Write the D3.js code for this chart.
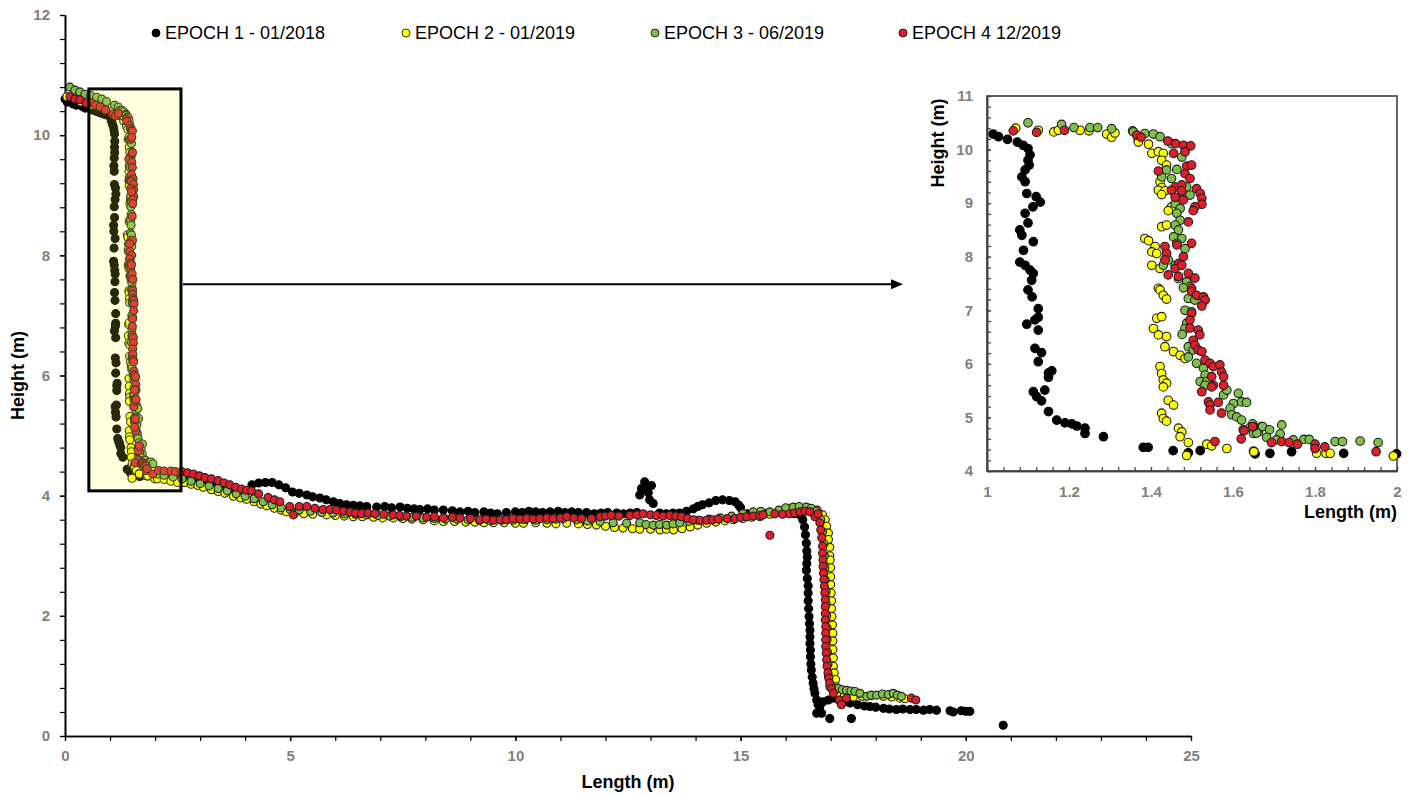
<!DOCTYPE html>
<html>
<head>
<meta charset="utf-8">
<script src="https://cdn.jsdelivr.net/npm/d3@7"></script>
<style>
  body { margin: 0; background: #fff; }
  text { font-family: "Liberation Sans", Arial, sans-serif; }
</style>
</head>
<body>
<script>
// ---- data: [length (m), height (m)] per survey epoch ----
const SERIES = ['EPOCH 1 - 01/2018', 'EPOCH 2 - 01/2019', 'EPOCH 3 - 06/2019', 'EPOCH 4 12/2019'];
const COLORS = ['#000000', '#ffff00', '#7fbf4a', '#dc1f2b'];

const EPOCH1 = [
    // crest
    [0.0,10.6],[0.05,10.55],[0.12,10.58],[0.18,10.52],[0.25,10.5],[0.3,10.55],[0.38,10.48],[0.45,10.45],
    [0.52,10.47],[0.6,10.42],[0.68,10.4],[0.75,10.38],[0.82,10.36],[0.9,10.34],[0.96,10.33],
    // upper wall
    [1.015,10.29],[1.028,10.24],[1.05,10.19],[1.074,10.14],[1.088,10.08],[1.10,10.02],[1.105,9.90],[1.10,9.80],
    [1.103,9.71],[1.093,9.62],[1.085,9.49],[1.093,9.40],[1.097,9.18],[1.12,9.12],[1.13,9.02],[1.112,8.93],
    [1.093,8.81],[1.10,8.63],[1.08,8.50],[1.085,8.40],[1.113,8.28],[1.089,8.12],[1.08,7.90],[1.093,7.84],
    [1.105,7.75],[1.113,7.69],[1.109,7.56],[1.10,7.38],[1.11,7.25],[1.125,7.03],[1.125,6.87],[1.117,6.82],
    [1.097,6.74],[1.125,6.63],[1.117,6.29],[1.133,6.21],[1.125,6.04],[1.15,5.83],[1.158,5.87],[1.15,5.75],
    [1.141,5.51],[1.113,5.48],[1.121,5.39],[1.133,5.31],[1.15,5.11],[1.17,4.95],[1.19,4.90],[1.207,4.88],
    [1.219,4.84],[1.239,4.80],[1.239,4.70],[1.284,4.64],[1.381,4.44],[1.393,4.44],[1.454,4.38],[1.491,4.34],
    [1.52,4.38],[1.654,4.32],[1.69,4.33],[1.743,4.36],[1.87,4.33],[1.999,4.32],
    // terrace
    [2.05,4.33],[2.2,4.32],[2.35,4.30],[2.5,4.28],[2.65,4.26],[2.8,4.24],[2.95,4.22],[3.1,4.2],[3.25,4.18],
    [3.4,4.15],[3.55,4.13],[3.7,4.1],[3.85,4.08],[4.0,4.08],[4.15,4.18],[4.3,4.21],[4.45,4.22],[4.6,4.22],
    [4.75,4.18],[4.9,4.13],[5.05,4.06],[5.2,4.04],[5.37,4.01],[5.5,3.98],[5.66,3.96],[5.8,3.93],[5.96,3.90],
    [6.1,3.87],[6.25,3.85],[6.4,3.84],[6.55,3.83],[6.7,3.82],[6.92,3.81],[7.1,3.82],[7.25,3.80],[7.44,3.81],
    [7.6,3.79],[7.75,3.78],[7.88,3.77],[8.05,3.78],[8.2,3.76],[8.4,3.76],[8.6,3.75],[8.77,3.73],[8.95,3.74],
    [9.1,3.72],[9.3,3.73],[9.45,3.71],[9.6,3.70],[9.8,3.72],[10.0,3.73],[10.15,3.72],[10.3,3.74],[10.45,3.73],
    [10.6,3.72],[10.77,3.73],[10.95,3.74],[11.1,3.72],[11.25,3.73],[11.4,3.72],[11.58,3.72],[11.75,3.70],
    [11.9,3.71],[12.05,3.72],[12.25,3.71],[12.4,3.70],[12.55,3.71],[12.7,3.72],[12.76,4.01],[12.8,4.12],
    [12.87,4.23],[12.92,4.10],[12.95,4.05],[13.02,4.17],[12.98,3.93],[13.06,3.87],[13.2,3.71],[13.35,3.70],
    [13.5,3.71],[13.65,3.71],[13.8,3.74],[13.95,3.78],[14.05,3.82],[14.15,3.85],[14.3,3.88],[14.45,3.92],
    [14.6,3.93],[14.75,3.92],[14.88,3.90],[14.96,3.84],[15.0,3.80],[15.15,3.70],[15.3,3.69],[15.45,3.70],
    [15.6,3.71],[15.75,3.70],[15.9,3.72],[16.05,3.71],[16.2,3.70],[16.32,3.68],
    // lower wall
    [16.38,3.60],[16.42,3.48],[16.44,3.35],[16.46,3.21],[16.47,3.08],[16.48,2.98],[16.47,2.87],[16.46,2.76],
    [16.48,2.62],[16.50,2.50],[16.50,2.38],[16.50,2.25],[16.51,2.12],[16.52,1.99],[16.53,1.87],[16.54,1.76],
    [16.54,1.65],[16.54,1.54],[16.55,1.43],[16.55,1.32],[16.56,1.2],[16.57,1.10],[16.59,0.98],[16.61,0.88],
    [16.63,0.79],[16.65,0.71],[16.69,0.60],[16.72,0.52],[16.76,0.49],[16.80,0.38],[16.69,0.38],[16.98,0.29],
    [17.46,0.29],
    // toe
    [16.83,0.57],[16.95,0.6],[17.06,0.63],[17.2,0.58],[17.3,0.57],[17.43,0.55],[17.6,0.52],[17.75,0.5],
    [17.87,0.49],[18.0,0.48],[18.17,0.46],[18.3,0.45],[18.46,0.44],[18.6,0.45],[18.76,0.44],[18.9,0.44],
    [19.06,0.43],[19.2,0.44],[19.35,0.43],[19.65,0.42],[19.72,0.40],[19.9,0.42],[20.0,0.41],[20.09,0.41],
    [20.83,0.18]
];

const EPOCH2 = [
    [0.04,10.64],[0.35,10.55],[0.6,10.5],[0.89,10.45],
    [1.070,10.40],[1.125,10.36],[1.163,10.33],[1.174,10.36],[1.227,10.36],[1.249,10.35],[1.292,10.29],
    [1.304,10.23],[1.312,10.31],[1.369,10.18],[1.369,10.14],[1.394,10.10],[1.402,9.93],[1.418,9.96],
    [1.430,9.93],[1.426,9.80],[1.438,9.71],[1.422,9.40],[1.426,9.29],[1.418,9.24],[1.434,9.23],[1.426,9.16],
    [1.450,8.93],[1.442,8.86],[1.426,8.56],[1.438,8.59],[1.385,8.34],[1.394,8.30],[1.410,8.19],[1.402,8.09],
    [1.414,8.06],[1.402,7.84],[1.422,7.78],[1.418,7.41],[1.422,7.38],[1.430,7.28],[1.438,7.21],[1.414,6.85],
    [1.426,6.88],[1.406,6.66],[1.418,6.54],[1.438,6.51],[1.434,6.32],[1.455,6.23],[1.471,6.16],[1.483,6.10],
    [1.422,5.95],[1.426,5.82],[1.430,5.70],[1.438,5.64],[1.430,5.57],[1.442,5.32],[1.455,5.23],[1.426,5.08],
    [1.430,4.98],[1.438,4.93],[1.467,4.80],[1.475,4.73],[1.471,4.64],[1.491,4.53],[1.487,4.29],[1.536,4.50],
    [1.548,4.47],[1.585,4.42],[1.650,4.37],[1.651,4.36],[1.804,4.33],[1.827,4.33],[1.837,4.33],[1.991,4.28],
    [2.05,4.28],[2.2,4.27],[2.35,4.24],[2.5,4.22],[2.65,4.22],[2.8,4.19],[2.95,4.17],[3.07,4.14],[3.25,4.10],
    [3.4,4.07],[3.55,4.04],[3.74,3.99],[3.9,3.96],[4.03,3.94],[4.2,3.90],[4.35,3.86],[4.48,3.83],[4.65,3.79],
    [4.8,3.76],[4.92,3.73],[5.1,3.71],[5.3,3.70],[5.5,3.69],[5.81,3.68],[6.0,3.67],[6.2,3.66],[6.4,3.65],
    [6.6,3.65],[6.85,3.64],[7.05,3.63],[7.29,3.63],[7.5,3.62],[7.7,3.61],[7.95,3.60],[8.2,3.58],[8.40,3.57],
    [8.65,3.57],[8.9,3.56],[9.1,3.56],[9.3,3.55],[9.51,3.55],[9.75,3.55],[10.0,3.54],[10.18,3.54],[10.45,3.55],
    [10.70,3.54],[10.9,3.53],[11.14,3.54],[11.4,3.53],[11.6,3.52],[11.80,3.51],[12.0,3.49],[12.2,3.47],
    [12.39,3.46],[12.6,3.45],[12.76,3.44],[13.0,3.44],[13.21,3.43],[13.35,3.44],[13.51,3.43],[13.7,3.45],
    [13.88,3.48],[14.05,3.51],[14.25,3.54],[14.45,3.56],[14.65,3.58],[14.84,3.60],[15.05,3.62],[15.25,3.64],
    [15.43,3.65],[15.65,3.69],[15.85,3.74],[16.09,3.79],[16.3,3.8],[16.5,3.79],[16.7,3.76],[16.82,3.68],
    [16.88,3.60],
    [16.91,3.49],[16.95,3.38],[16.95,3.27],[16.98,3.14],[16.98,3.0],[16.99,2.93],[17.0,2.80],[17.0,2.65],
    [17.0,2.52],[17.01,2.38],[17.02,2.25],[17.02,2.12],[17.03,1.99],[17.04,1.85],[17.05,1.71],[17.05,1.58],
    [17.05,1.44],[17.06,1.30],[17.06,1.16],[17.08,1.05],[17.11,0.94],[17.12,0.82],[17.14,0.71],
    [17.3,0.66],[17.5,0.65],[17.7,0.66],[17.9,0.67],[18.17,0.66],[18.35,0.65],[18.54,0.63],[18.65,0.62]
];

const EPOCH3 = [
    [0.11,10.80],[0.22,10.75],[0.33,10.72],[0.44,10.68],[0.57,10.66],[0.70,10.63],[0.82,10.6],[0.92,10.56],
    [1.10,10.50],[1.182,10.47],[1.212,10.41],[1.251,10.41],[1.270,10.41],[1.304,10.39],[1.355,10.35],
    [1.357,10.33],[1.385,10.30],[1.406,10.29],[1.422,10.24],[1.450,10.11],[1.475,9.86],[1.438,9.62],
    [1.463,9.63],[1.426,9.49],[1.450,9.46],[1.487,9.30],[1.479,9.12],[1.495,9.15],[1.459,8.99],[1.471,8.90],
    [1.463,8.81],[1.471,8.68],[1.459,8.59],[1.467,8.50],[1.455,8.37],[1.475,8.34],[1.463,8.25],[1.483,8.15],
    [1.442,7.94],[1.430,7.84],[1.459,7.84],[1.467,7.59],[1.487,7.53],[1.495,7.44],[1.479,7.42],[1.491,7.22],
    [1.507,7.19],[1.483,7.00],[1.499,6.97],[1.487,6.76],[1.483,6.66],[1.476,6.55],[1.491,6.32],[1.503,6.26],
    [1.491,6.13],[1.511,6.01],[1.528,5.92],[1.532,5.79],[1.520,5.67],[1.536,5.67],[1.532,5.60],[1.577,5.42],
    [1.585,5.51],[1.613,5.45],[1.601,5.26],[1.621,5.29],[1.633,5.28],[1.593,5.17],[1.597,5.05],[1.609,5.01],
    [1.621,4.95],[1.641,4.81],[1.662,4.73],[1.670,4.83],[1.650,4.70],[1.648,4.88],[1.672,4.83],[1.689,4.77],
    [1.719,4.86],[1.715,4.69],[1.658,4.71],[1.682,4.63],[1.706,4.58],[1.747,4.58],[1.773,4.59],[1.786,4.59],
    [1.849,4.55],[1.867,4.55],[1.910,4.56],[1.954,4.53],
    [2.05,4.36],[2.2,4.34],[2.4,4.31],[2.6,4.28],[2.8,4.24],[3.0,4.20],[3.2,4.16],[3.4,4.12],[3.6,4.08],
    [3.8,4.03],[4.0,3.99],[4.2,3.95],[4.4,3.9],[4.6,3.85],[4.8,3.80],[5.0,3.77],[5.2,3.76],[5.45,3.74],
    [5.7,3.72],[5.95,3.71],[6.2,3.70],[6.45,3.69],[6.7,3.68],[6.95,3.67],[7.2,3.66],[7.45,3.65],[7.7,3.64],
    [7.95,3.63],[8.2,3.62],[8.45,3.61],[8.7,3.61],[8.95,3.60],[9.2,3.59],[9.45,3.58],[9.7,3.59],[9.95,3.59],
    [10.2,3.60],[10.45,3.59],[10.7,3.60],[10.9,3.61],[11.06,3.62],[11.36,3.60],[11.6,3.58],[11.88,3.57],
    [12.17,3.55],[12.47,3.54],[12.76,3.55],[12.9,3.52],[13.06,3.51],[13.2,3.52],[13.36,3.51],[13.5,3.53],
    [13.65,3.55],[13.85,3.57],[14.05,3.59],[14.3,3.61],[14.55,3.63],[14.8,3.66],[15.05,3.70],[15.28,3.73],
    [15.45,3.74],[15.65,3.73],[15.85,3.76],[16.0,3.80],[16.17,3.81],[16.3,3.82],[16.46,3.81],[16.57,3.79],
    [16.68,3.74],
    [16.78,3.6],[16.82,3.4],[16.85,3.2],[16.86,3.0],[16.87,2.8],[16.88,2.6],[16.9,2.4],[16.9,2.2],[16.91,2.0],
    [16.92,1.8],[16.92,1.6],[16.93,1.4],[16.94,1.2],[16.95,1.0],[16.98,0.82],
    [17.08,0.80],[17.17,0.79],[17.26,0.77],[17.35,0.76],[17.45,0.75],[17.54,0.74],[17.65,0.71],[17.80,0.66],
    [17.9,0.68],[18.02,0.68],[18.15,0.70],[18.28,0.69],[18.39,0.71],[18.48,0.68],[18.57,0.66]
];

const EPOCH4 = [
    [0.11,10.64],[0.22,10.6],[0.33,10.59],[0.47,10.53],[0.59,10.54],[0.68,10.5],[0.78,10.47],[0.9,10.42],
    [1.064,10.35],[1.121,10.32],[1.189,10.36],[1.365,10.27],[1.376,10.23],[1.441,10.16],[1.460,10.11],
    [1.479,10.08],[1.497,10.07],[1.455,9.93],[1.483,9.96],[1.418,9.60],[1.487,9.69],[1.499,9.71],[1.483,9.55],
    [1.495,9.46],[1.459,9.30],[1.475,9.34],[1.511,9.27],[1.450,9.24],[1.475,9.23],[1.520,9.18],[1.524,9.09],
    [1.524,8.98],[1.459,9.11],[1.479,9.06],[1.507,8.93],[1.503,8.86],[1.491,8.65],[1.463,8.22],[1.499,8.25],
    [1.434,8.19],[1.438,8.06],[1.479,8.00],[1.434,7.94],[1.467,7.87],[1.459,7.78],[1.475,7.84],[1.442,7.66],
    [1.467,7.63],[1.491,7.69],[1.507,7.60],[1.499,7.41],[1.499,7.35],[1.511,7.28],[1.528,7.25],[1.532,7.19],
    [1.524,7.08],[1.499,6.94],[1.495,6.82],[1.495,6.67],[1.515,6.63],[1.519,6.54],[1.503,6.44],[1.507,6.35],
    [1.515,6.26],[1.524,6.23],[1.532,6.07],[1.544,6.01],[1.552,5.95],[1.568,5.98],[1.572,5.85],[1.577,5.76],
    [1.548,5.76],[1.552,5.60],[1.524,5.48],[1.548,5.57],[1.577,5.60],[1.540,5.29],[1.544,5.23],[1.564,5.28],
    [1.572,5.08],[1.544,5.14],[1.625,4.77],[1.620,4.60],[1.650,4.83],[1.556,4.55],[1.627,4.75],[1.648,4.83],
    [1.694,4.53],[1.719,4.55],[1.737,4.53],[1.757,4.50],[1.800,4.50],[1.800,4.42],[1.824,4.45],[1.949,4.36],
    [2.08,4.42],[2.2,4.41],[2.35,4.41],[2.45,4.40],[2.59,4.40],[2.72,4.38],[2.85,4.36],[2.98,4.33],[3.11,4.30],
    [3.25,4.28],[3.40,4.25],[3.53,4.21],[3.66,4.18],[3.79,4.14],[3.92,4.11],[4.03,4.09],[4.14,4.08],[4.3,4.03],
    [4.51,3.97],[4.65,3.93],[4.77,3.90],[4.99,3.82],[5.07,3.68],[5.2,3.82],[5.37,3.82],[5.55,3.79],[5.73,3.77],
    [5.88,3.77],[6.03,3.76],[6.18,3.74],[6.33,3.73],[6.45,3.71],[6.58,3.70],[6.73,3.71],[6.88,3.70],[7.08,3.69],
    [7.29,3.68],[7.43,3.67],[7.58,3.66],[7.8,3.66],[8.03,3.64],[8.2,3.65],[8.40,3.63],[8.6,3.64],[8.77,3.63],
    [9.0,3.62],[9.21,3.60],[9.35,3.61],[9.51,3.59],[9.66,3.60],[9.80,3.60],[9.95,3.62],[10.1,3.61],[10.25,3.62],
    [10.4,3.61],[10.54,3.62],[10.7,3.63],[10.84,3.62],[11.0,3.63],[11.14,3.65],[11.3,3.63],[11.47,3.62],
    [11.69,3.62],[11.88,3.65],[12.0,3.66],[12.13,3.67],[12.3,3.66],[12.54,3.67],[12.7,3.68],[12.84,3.70],
    [13.0,3.68],[13.13,3.67],[13.28,3.66],[13.43,3.67],[13.56,3.66],[13.69,3.65],[13.82,3.62],[13.95,3.60],
    [14.1,3.59],[14.25,3.59],[14.38,3.60],[14.50,3.61],[14.7,3.62],[14.87,3.62],[15.0,3.64],[15.13,3.65],
    [15.28,3.66],[15.43,3.67],[15.5,3.68],[15.65,3.34],[15.76,3.70],[15.93,3.69],[16.09,3.70],[16.2,3.71],
    [16.32,3.73],[16.43,3.74],[16.54,3.73],[16.65,3.65],[16.72,3.70],[16.76,3.55],
    [16.78,3.43],[16.80,3.30],[16.82,3.16],[16.82,3.04],[16.83,2.93],[16.83,2.82],[16.84,2.71],[16.85,2.60],
    [16.86,2.49],[16.87,2.38],[16.88,2.27],[16.88,2.15],[16.88,2.04],[16.88,1.93],[16.89,1.82],[16.89,1.71],
    [16.89,1.60],[16.89,1.49],[16.9,1.38],[16.91,1.27],[16.92,1.16],[16.94,1.05],[16.96,0.96],[16.98,0.88],
    [17.02,0.79],[17.06,0.71],[17.20,0.60],[17.24,0.52],[17.35,0.63],
    [18.79,0.63],[18.89,0.60]
];

const EPOCHS = [EPOCH1, EPOCH2, EPOCH3, EPOCH4];

// tick labels
const MAIN_X_TICKS = [0, 5, 10, 15, 20, 25];
const MAIN_Y_TICKS = [0, 2, 4, 6, 8, 10, 12];
const INSET_X_TICKS = [1, 1.2, 1.4, 1.6, 1.8, 2];
const INSET_Y_TICKS = [4, 5, 6, 7, 8, 9, 10, 11];

// zoom window drawn on the main chart
const ZOOM_BOX = {x0: 0.53, x1: 2.575, y0: 4.08, y1: 10.77};

const SVG_DIM = {W: 1415, H: 796};
const MAIN = {L: 65, R: 1191, T: 15, B: 736};
const INSET = {L: 987, R: 1397, T: 96, B: 471};

const svg = d3.select('body').append('svg')
    .attr('width', SVG_DIM.W)
    .attr('height', SVG_DIM.H);

const x = d3.scaleLinear().domain([0, 25]).range([MAIN.L, MAIN.R]);
const y = d3.scaleLinear().domain([0, 12]).range([MAIN.B, MAIN.T]);
const xi = d3.scaleLinear().domain([1, 2]).range([INSET.L, INSET.R]);
const yi = d3.scaleLinear().domain([4, 11]).range([INSET.B, INSET.T]);

function styleAxis(g, stroke) {
    g.selectAll('path.domain').attr('stroke', stroke).attr('stroke-width', 1.6);
    g.selectAll('.tick line').attr('stroke', stroke).attr('stroke-width', 1.2);
    g.selectAll('.tick text')
        .attr('fill', '#7f7f7f')
        .style('font-size', '15px')
        .style('font-weight', 'bold');
}

// main axes: minor ticks, then labelled major ticks
svg.append('g')
    .attr('transform', 'translate(0,' + MAIN.B + ')')
    .call(d3.axisBottom(x).tickValues(d3.range(0, 25.5, 1)).tickFormat('').tickSize(5).tickSizeOuter(0))
    .call(g => styleAxis(g, '#000'));
svg.append('g')
    .attr('transform', 'translate(0,' + MAIN.B + ')')
    .call(d3.axisBottom(x).tickValues(MAIN_X_TICKS).tickSize(5).tickSizeOuter(0).tickPadding(9))
    .call(g => styleAxis(g, '#000'));

svg.append('g')
    .attr('transform', 'translate(' + MAIN.L + ',0)')
    .call(d3.axisLeft(y).tickValues(d3.range(0, 12.2, 0.4)).tickFormat('').tickSize(5).tickSizeOuter(0))
    .call(g => styleAxis(g, '#000'));
svg.append('g')
    .attr('transform', 'translate(' + MAIN.L + ',0)')
    .call(d3.axisLeft(y).tickValues(MAIN_Y_TICKS).tickSize(5).tickSizeOuter(0).tickPadding(10))
    .call(g => styleAxis(g, '#000'));

svg.append('text')
    .attr('x', (MAIN.L + MAIN.R) / 2).attr('y', 788)
    .attr('text-anchor', 'middle')
    .style('font-size', '18px').style('font-weight', 'bold')
    .text('Length (m)');
svg.append('text')
    .attr('transform', 'translate(24,' + (MAIN.T + MAIN.B) / 2 + ') rotate(-90)')
    .attr('text-anchor', 'middle')
    .style('font-size', '18px').style('font-weight', 'bold')
    .text('Height (m)');

// main points
EPOCHS.forEach((pts, i) => {
    svg.append('g').selectAll('circle')
        .data(pts)
        .enter()
        .append('circle')
        .attr('cx', d => x(d[0]))
        .attr('cy', d => y(d[1]))
        .attr('r', 4)
        .attr('fill', COLORS[i])
        .attr('stroke', i === 0 ? '#000' : '#1e1e1e')
        .attr('stroke-width', 1.1);
});

// zoom box (translucent, sits over the points)
svg.append('rect')
    .attr('x', x(ZOOM_BOX.x0)).attr('y', y(ZOOM_BOX.y1))
    .attr('width', x(ZOOM_BOX.x1) - x(ZOOM_BOX.x0))
    .attr('height', y(ZOOM_BOX.y0) - y(ZOOM_BOX.y1))
    .attr('fill', '#ffff40').attr('fill-opacity', 0.16)
    .attr('stroke', '#000').attr('stroke-width', 3);

// arrow to the inset
const arrowY = y(7.52);
const arrowX0 = x(ZOOM_BOX.x1) + 2;
const arrowX1 = INSET.L - 84;
svg.append('line')
    .attr('x1', arrowX0).attr('x2', arrowX1 - 9)
    .attr('y1', arrowY).attr('y2', arrowY)
    .attr('stroke', '#000').attr('stroke-width', 2);
svg.append('path')
    .attr('d', 'M' + arrowX1 + ',' + arrowY + 'l-12,-5l0,10z')
    .attr('fill', '#000');

// inset
const inset = svg.append('g');
inset.append('rect')
    .attr('x', INSET.L).attr('y', INSET.T)
    .attr('width', INSET.R - INSET.L).attr('height', INSET.B - INSET.T)
    .attr('fill', '#fff');

inset.append('g')
    .attr('transform', 'translate(0,' + INSET.B + ')')
    .call(d3.axisBottom(xi).tickValues(d3.range(1, 2.01, 0.04)).tickFormat('').tickSize(-4).tickSizeOuter(0))
    .call(g => styleAxis(g, '#404040'));
inset.append('g')
    .attr('transform', 'translate(0,' + INSET.B + ')')
    .call(d3.axisBottom(xi).tickValues(INSET_X_TICKS).tickFormat(d3.format('~g')).tickSize(-4).tickSizeOuter(0).tickPadding(15))
    .call(g => styleAxis(g, '#404040'));
inset.append('g')
    .attr('transform', 'translate(' + INSET.L + ',0)')
    .call(d3.axisLeft(yi).tickValues(d3.range(4, 11.01, 0.2)).tickFormat('').tickSize(-4).tickSizeOuter(0))
    .call(g => styleAxis(g, '#404040'));
inset.append('g')
    .attr('transform', 'translate(' + INSET.L + ',0)')
    .call(d3.axisLeft(yi).tickValues(INSET_Y_TICKS).tickFormat(d3.format('d')).tickSize(-4).tickSizeOuter(0).tickPadding(14))
    .call(g => styleAxis(g, '#404040'));

inset.append('rect')
    .attr('x', INSET.L).attr('y', INSET.T)
    .attr('width', INSET.R - INSET.L).attr('height', INSET.B - INSET.T)
    .attr('fill', 'none').attr('stroke', '#404040').attr('stroke-width', 1.6);

inset.append('text')
    .attr('x', INSET.R).attr('y', 518)
    .attr('text-anchor', 'end')
    .style('font-size', '18px').style('font-weight', 'bold')
    .text('Length (m)');
inset.append('text')
    .attr('transform', 'translate(944,143) rotate(-90)')
    .attr('text-anchor', 'middle')
    .style('font-size', '18px').style('font-weight', 'bold')
    .text('Height (m)');

EPOCHS.forEach((pts, i) => {
    inset.append('g').selectAll('circle')
        .data(pts.filter(d => d[0] >= 0.99 && d[0] <= 2.01 && d[1] >= 3.99 && d[1] <= 11))
        .enter()
        .append('circle')
        .attr('cx', d => xi(d[0]))
        .attr('cy', d => yi(d[1]))
        .attr('r', 4.3)
        .attr('fill', COLORS[i])
        .attr('stroke', i === 0 ? '#000' : '#1e1e1e')
        .attr('stroke-width', 1.1);
});

// legend
const LEGEND_X = [156, 406, 655, 903];
const legend = svg.append('g');
SERIES.forEach((name, i) => {
    legend.append('circle')
        .attr('cx', LEGEND_X[i]).attr('cy', 33).attr('r', 4)
        .attr('fill', COLORS[i]).attr('stroke', '#000').attr('stroke-width', 0.8);
    legend.append('text')
        .attr('x', LEGEND_X[i] + 9).attr('y', 33).attr('dy', '0.35em')
        .style('font-size', '18px')
        .text(name);
});
</script>
</body>
</html>
